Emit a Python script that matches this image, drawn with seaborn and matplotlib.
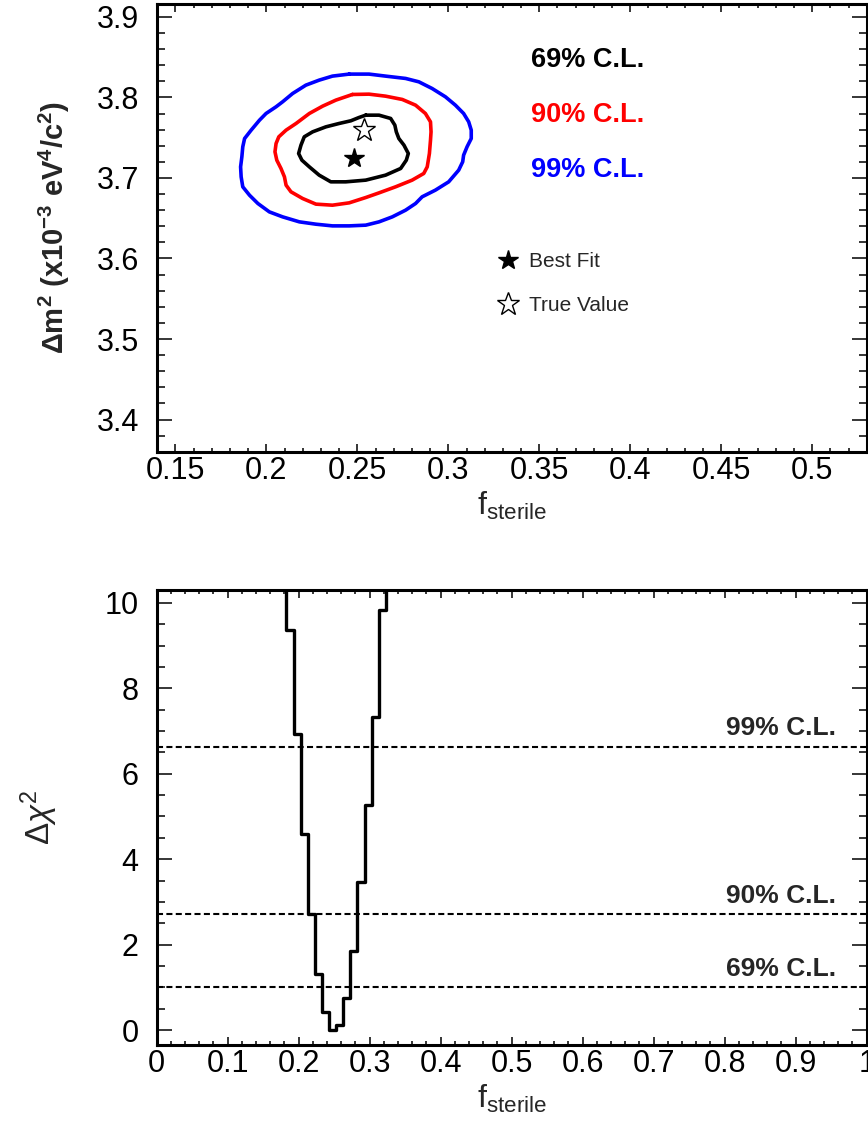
import numpy as np
import pandas as pd
import matplotlib
matplotlib.use("Agg")
import matplotlib.pyplot as plt
from matplotlib.ticker import MultipleLocator, FuncFormatter
import seaborn as sns

# contour traces (f_sterile, dm2)
c69_x = [0.2546, 0.2619, 0.2683, 0.2706, 0.2714, 0.2728, 0.2756, 0.2780, 0.2769, 0.2738, 0.2655,
         0.2546, 0.2436, 0.2354, 0.2290, 0.2236, 0.2195, 0.2177, 0.2190, 0.2208, 0.2254, 0.2327,
         0.2400, 0.2464, 0.2509]
c69_y = [3.7780, 3.7780, 3.7739, 3.7656, 3.7573, 3.7490, 3.7408, 3.7304, 3.7221, 3.7118, 3.7035,
         3.6973, 3.6952, 3.6952, 3.7035, 3.7138, 3.7221, 3.7304, 3.7408, 3.7511, 3.7573, 3.7635,
         3.7677, 3.7710, 3.7751]

c90_x = [0.2473, 0.2564, 0.2655, 0.2747, 0.2820, 0.2874, 0.2902, 0.2905, 0.2902, 0.2896, 0.2884,
         0.2865, 0.2801, 0.2710, 0.2619, 0.2546, 0.2455, 0.2363, 0.2272, 0.2199, 0.2135, 0.2108,
         0.2099, 0.2080, 0.2057, 0.2047, 0.2053, 0.2068, 0.2108, 0.2163, 0.2236, 0.2309, 0.2382]
c90_y = [3.8037, 3.8041, 3.8016, 3.7975, 3.7904, 3.7801, 3.7697, 3.7573, 3.7469, 3.7304, 3.7138,
         3.7056, 3.6973, 3.6890, 3.6815, 3.6757, 3.6691, 3.6662, 3.6675, 3.6745, 3.6828, 3.6911,
         3.7014, 3.7118, 3.7221, 3.7325, 3.7428, 3.7511, 3.7594, 3.7677, 3.7801, 3.7892, 3.7967]

c99_x = [0.2455, 0.2564, 0.2655, 0.2765, 0.2838, 0.2911, 0.2984, 0.3039, 0.3084, 0.3112, 0.3126,
         0.3126, 0.3103, 0.3084, 0.3079, 0.3057, 0.3002, 0.2929, 0.2856, 0.2820, 0.2765, 0.2692,
         0.2619, 0.2546, 0.2455, 0.2363, 0.2272, 0.2181, 0.2089, 0.2016, 0.1953, 0.1907, 0.1870,
         0.1861, 0.1858, 0.1865, 0.1870, 0.1880, 0.1916, 0.1962, 0.1998, 0.2053, 0.2089, 0.2144,
         0.2217, 0.2290, 0.2363]
c99_y = [3.8290, 3.8290, 3.8265, 3.8236, 3.8194, 3.8111, 3.8008, 3.7904, 3.7801, 3.7697, 3.7594,
         3.7490, 3.7387, 3.7283, 3.7201, 3.7097, 3.6952, 3.6849, 3.6766, 3.6683, 3.6600, 3.6517,
         3.6455, 3.6414, 3.6405, 3.6405, 3.6426, 3.6455, 3.6517, 3.6579, 3.6683, 3.6786, 3.6890,
         3.7014, 3.7138, 3.7263, 3.7387, 3.7490, 3.7594, 3.7718, 3.7801, 3.7884, 3.7946, 3.8049,
         3.8153, 3.8215, 3.8265]

best_fit = (0.2482, 3.725)
true_value = (0.2537, 3.7594)

cl_names = ["69% C.L.", "90% C.L.", "99% C.L."]
cl_colors = ["black", "red", "blue"]
cl_chi2 = [1.0, 2.71, 6.63]

# delta chi2 profile (histogram bins)
bin_edges = [0.1728, 0.1828, 0.1928, 0.2028, 0.2128, 0.2228, 0.2328, 0.2428, 0.2528, 0.2628,
             0.2728, 0.2828, 0.2928, 0.3028, 0.3128, 0.3228, 0.3328]
dchi2 = [12.0, 9.36, 6.94, 4.59, 2.71, 1.30, 0.43, 0.0, 0.12, 0.74, 1.86, 3.47, 5.27, 7.32, 9.84, 12.4]

sns.set_style("ticks")
plt.rcParams["font.family"] = ["Liberation Sans", "DejaVu Sans"]
plt.rcParams["mathtext.fontset"] = "custom"
plt.rcParams["mathtext.rm"] = "Liberation Sans"
plt.rcParams["mathtext.it"] = "Liberation Sans:italic"
plt.rcParams["mathtext.bf"] = "Liberation Sans:bold"

fig = plt.figure(figsize=(8.68, 11.24), dpi=100)
ax1 = fig.add_axes([0.1812, 0.5981, 0.8173, 0.3983])
ax2 = fig.add_axes([0.1805, 0.0703, 0.8180, 0.4048])


def style_axes(ax):
    for s in ax.spines.values():
        s.set_linewidth(2.2)
        s.set_color("black")
    ax.tick_params(which="both", direction="in", top=True, right=True,
                   labeltop=False, labelright=False, width=1.1, colors="black",
                   labelsize=22)
    ax.tick_params(axis="y", which="major", length=11, pad=13)
    ax.tick_params(axis="y", which="minor", length=6)
    ax.tick_params(axis="x", which="major", length=6, pad=3)
    ax.tick_params(axis="x", which="minor", length=3)


# ---- top panel: contours ----
for cx, cy, col in [(c69_x, c69_y, "black"), (c90_x, c90_y, "red"), (c99_x, c99_y, "blue")]:
    df = pd.DataFrame({"x": cx + cx[:1], "y": cy + cy[:1]})
    sns.lineplot(data=df, x="x", y="y", sort=False, estimator=None, color=col, lw=2.6, ax=ax1)

bf, = ax1.plot([best_fit[0]], [best_fit[1]], marker="*", ls="none", ms=15, color="black",
               label="Best Fit")
tv, = ax1.plot([true_value[0]], [true_value[1]], marker="*", ls="none", ms=17, mfc="white",
               mec="black", mew=1.0, label="True Value")

label_pos_y = [3.8463, 3.778, 3.7097]
for name, col, yy in zip(cl_names, cl_colors, label_pos_y):
    ax1.text(0.3455, yy, name, color=col, fontsize=19.5, fontweight="bold", va="center", ha="left")

ax1.legend(handles=[bf, tv], loc="upper left", bbox_to_anchor=(0.48, 0.446), frameon=False,
           fontsize=15, handlelength=1.0, handletextpad=0.5, labelspacing=1.2, borderpad=0,
           borderaxespad=0)

ax1.set_xlim(0.14, 0.53)
ax1.set_ylim(3.36, 3.916)
ax1.xaxis.set_major_locator(MultipleLocator(0.05))
ax1.xaxis.set_minor_locator(MultipleLocator(0.01))
ax1.yaxis.set_major_locator(MultipleLocator(0.1))
ax1.yaxis.set_minor_locator(MultipleLocator(0.02))
ax1.xaxis.set_major_formatter(FuncFormatter(lambda v, p: "%g" % round(v, 3)))
ax1.yaxis.set_major_formatter(FuncFormatter(lambda v, p: "%g" % round(v, 3)))
style_axes(ax1)
ax1.set_xlabel(r"f$_{\mathregular{sterile}}$", fontsize=23, labelpad=3)
ax1.set_ylabel(r"$\mathbf{\Delta m^{2}}$ (x10$^{\mathbf{-3}}$ eV$^{\mathbf{4}}$/c$^{\mathbf{2}}$)",
               fontsize=21, fontweight="bold", labelpad=18)

# ---- bottom panel: delta chi2 ----
hist_df = pd.DataFrame({"f": bin_edges, "chi2": dchi2 + dchi2[-1:]})
sns.lineplot(data=hist_df, x="f", y="chi2", sort=False, estimator=None, drawstyle="steps-post",
             color="black", lw=2.4, ax=ax2)

for name, lev in zip(cl_names, cl_chi2):
    ax2.axhline(lev, color="black", lw=1.5, ls=(0, (2.9, 1.6)))
    ax2.text(0.957, lev + 0.15, name, fontsize=19, fontweight="bold", ha="right", va="bottom")

ax2.set_xlim(0, 1)
ax2.set_ylim(-0.35, 10.3)
ax2.xaxis.set_major_locator(MultipleLocator(0.1))
ax2.xaxis.set_minor_locator(MultipleLocator(0.02))
ax2.yaxis.set_major_locator(MultipleLocator(2))
ax2.yaxis.set_minor_locator(MultipleLocator(0.5))
ax2.xaxis.set_major_formatter(FuncFormatter(lambda v, p: "%g" % round(v, 3)))
style_axes(ax2)
ax2.set_xlabel(r"f$_{\mathregular{sterile}}$", fontsize=23, labelpad=3)
ax2.set_ylabel(r"$\Delta\chi^{2}$", fontsize=24, labelpad=32)

fig.savefig("out.png", dpi=100)
